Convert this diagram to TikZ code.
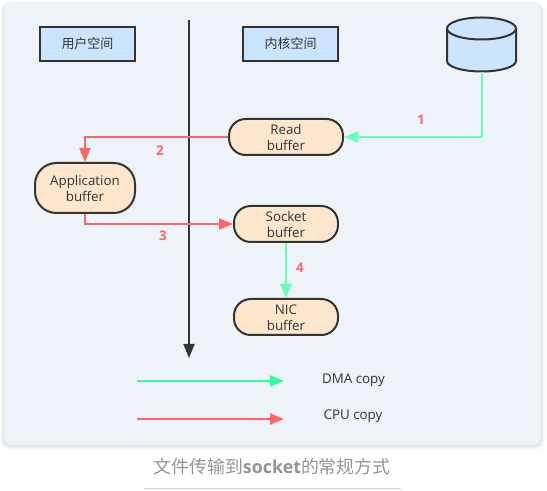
\documentclass[tikz,border=0pt]{standalone}
\usepackage{fontspec}
\setmainfont{Open Sans}
\newfontfamily\cjk{Noto Sans CJK SC}
\usetikzlibrary{arrows.meta}
\definecolor{panelfill}{HTML}{EEF3FA}
\definecolor{boxblue}{HTML}{CCE5FF}
\definecolor{boxorange}{HTML}{FFE6CC}
\definecolor{dark}{HTML}{333333}
\definecolor{cpured}{HTML}{FF6666}
\definecolor{dmagreen}{HTML}{66FFB3}
\definecolor{legendgreen}{HTML}{33FF99}
\newcommand{\bufferlines}[2]{\rule{0pt}{8.4pt}#1\\#2}
\tikzset{every picture/.style={line width=1.5pt}}
\tikzset{
  spacebox/.style={draw=dark,fill=boxblue,minimum width=71.25pt,minimum height=25.5pt,inner sep=0.75pt,font=\fontsize{9.75}{12}\selectfont\cjk,text=dark},
  bufferbox/.style={draw=dark,fill=boxorange,rounded corners=12.5pt,inner sep=0.75pt,align=center,font=\fontsize{10}{12}\selectfont,text=dark},
  arrowtip/.style={-{Triangle[length=10.5pt,width=8.25pt]}},
  cpuline/.style={draw=cpured,arrowtip},
  dmaline/.style={draw=dmagreen,arrowtip},
  steplabel/.style={inner sep=0.75pt,text=cpured,font=\fontsize{10}{12}\selectfont\bfseries},
  legendlabel/.style={inner sep=0.75pt,text=dark,font=\fontsize{10}{12}\selectfont}
}

\begin{document}
\begin{tikzpicture}[x=0.75pt,y=0.75pt,yscale=-1,xscale=1]
\useasboundingbox (0,0) rectangle (547,491);

%Panel shadow
\foreach \s/\o in {4/0.015,3/0.02,2/0.03,1/0.04}
  \fill [black,opacity=\o,rounded corners=6pt] (4-\s,3) rectangle (541+\s,445+\s+1);
%Panel
\fill [panelfill,rounded corners=6pt] (4,2) rectangle (541,445);

% Space boxes
\draw (87.5,44) node [spacebox] (userspace) {用户空间};
\draw (290.5,44) node [spacebox] (kernelspace) {内核空间};

%Divider
\coordinate (dividertop) at (189,20);
\coordinate (dividerend) at (189,358);
\draw [draw=dark,arrowtip] (dividertop) -- (dividerend);

%Disk
\coordinate (disk) at (482,72);
\draw [draw=dark,fill=boxblue] (447,29) -- (447,61) arc [x radius=34.5,y radius=10.5,start angle=180,end angle=0] -- (516,29) ;
\draw [draw=dark,fill=boxblue] (481.5,28.5) ellipse [x radius=34.5,y radius=11];

% Buffers
\draw (286,137) node [bufferbox,minimum width=85.5pt,minimum height=27pt] (readbuf) {\bufferlines{Read}{buffer}};
\draw (85,188) node [bufferbox,minimum width=75pt,minimum height=37.5pt,rounded corners=16pt] (appbuf) {\bufferlines{Application}{buffer}};
\draw (286,224) node [bufferbox,minimum width=78pt,minimum height=27pt] (socketbuf) {\bufferlines{Socket}{buffer}};
\draw (286,317) node [bufferbox,minimum width=78pt,minimum height=27pt] (nicbuf) {\bufferlines{NIC}{buffer}};

%Copy paths
\draw [dmaline] (disk) |- (readbuf.east);
\draw [cpuline] (readbuf.west) -| (appbuf.north);
\draw [cpuline] (appbuf.south) |- (socketbuf.west);
\draw [dmaline] (socketbuf.south) -- (nicbuf.north);

% Step numbers
\draw (421,120) node [steplabel] (stepone) {1};
\draw (160,151) node [steplabel] (steptwo) {2};
\draw (163,236) node [steplabel] (stepthree) {3};
\draw (300,268) node [steplabel] (stepfour) {4};

%Legend
\coordinate (dmastart) at (137,381);
\coordinate (dmaend) at (284,381);
\coordinate (cpustart) at (137,419);
\coordinate (cpuend) at (284,419);
\draw [draw=legendgreen,arrowtip] (dmastart) -- (dmaend);
\draw [cpuline] (cpustart) -- (cpuend);
\draw (353.5,380) node [legendlabel] (dmalabel) {DMA copy};
\draw (353,416) node [legendlabel] (cpulabel) {CPU copy};

% Caption
\draw (272,467) node [inner sep=0.75pt,text=black!42,font=\fontsize{13.4}{16}\selectfont] (caption) {{\cjk 文件传输到}\textbf{socket}{\cjk 的常规方式}};
\coordinate (ruleleft) at (144,489);
\coordinate (ruleright) at (401,489);
\draw [draw=black!18,line width=0.75pt] (ruleleft) -- (ruleright);

\end{tikzpicture}
\end{document}
